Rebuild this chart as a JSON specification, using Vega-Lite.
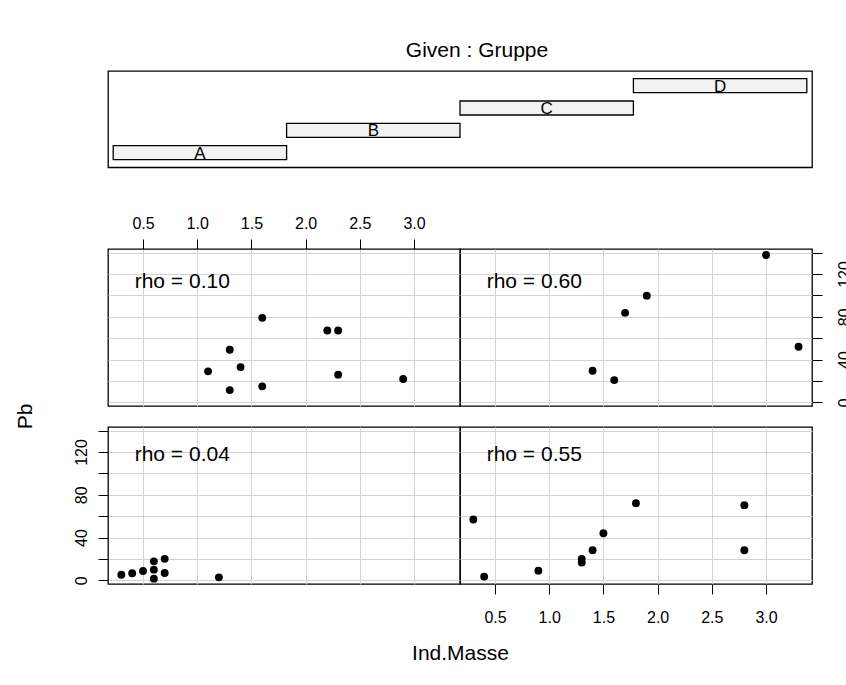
{
  "$schema": "https://vega.github.io/schema/vega-lite/v6.json",
  "padding": {"left": 13, "top": 39, "right": -4, "bottom": 0},
  "background": "white",
  "config": {
    "font": "Liberation Sans",
    "view": {"stroke": "black", "strokeWidth": 1.3},
    "axis": {"domain": false, "gridColor": "#D3D3D3", "gridWidth": 1, "gridOpacity": 1, "tickColor": "black", "tickWidth": 1, "tickSize": 10, "labelFont": "Liberation Sans", "labelFontSize": 16, "labelColor": "black", "titleFont": "Liberation Sans", "titleFontSize": 21, "titleFontWeight": "normal", "titleColor": "black", "labelFlush": false, "labelOverlap": false},
    "title": {"font": "Liberation Sans", "fontSize": 21, "fontWeight": "normal", "color": "black"}
  },
  "datasets": {
    "pts": [
      {"g": "A", "x": 0.3, "y": 5.3}, {"g": "A", "x": 0.4, "y": 6.6}, {"g": "A", "x": 0.5, "y": 8.8}, {"g": "A", "x": 0.6, "y": 17.8}, {"g": "A", "x": 0.6, "y": 10.0}, {"g": "A", "x": 0.6, "y": 1.6}, {"g": "A", "x": 0.7, "y": 20.1}, {"g": "A", "x": 0.7, "y": 6.9}, {"g": "A", "x": 1.2, "y": 2.8},
      {"g": "B", "x": 0.3, "y": 56.9}, {"g": "B", "x": 0.4, "y": 3.5}, {"g": "B", "x": 0.9, "y": 9.1}, {"g": "B", "x": 1.3, "y": 20.1}, {"g": "B", "x": 1.3, "y": 16.6}, {"g": "B", "x": 1.4, "y": 28.1}, {"g": "B", "x": 1.5, "y": 44.1}, {"g": "B", "x": 1.8, "y": 72.2}, {"g": "B", "x": 2.8, "y": 70.3}, {"g": "B", "x": 2.8, "y": 28.1},
      {"g": "C", "x": 1.6, "y": 79.0}, {"g": "C", "x": 2.2, "y": 67.2}, {"g": "C", "x": 2.3, "y": 67.2}, {"g": "C", "x": 1.3, "y": 49.2}, {"g": "C", "x": 1.1, "y": 29.0}, {"g": "C", "x": 1.4, "y": 33.0}, {"g": "C", "x": 1.3, "y": 11.5}, {"g": "C", "x": 1.6, "y": 15.0}, {"g": "C", "x": 2.3, "y": 25.9}, {"g": "C", "x": 2.9, "y": 21.8},
      {"g": "D", "x": 3.0, "y": 137.8}, {"g": "D", "x": 1.9, "y": 99.8}, {"g": "D", "x": 1.7, "y": 83.7}, {"g": "D", "x": 3.3, "y": 52.0}, {"g": "D", "x": 1.4, "y": 29.6}, {"g": "D", "x": 1.6, "y": 20.8}
    ],
    "lab": [
      {"g": "A", "x": 0.423, "y": 111.5, "t": "rho = 0.04"},
      {"g": "B", "x": 0.423, "y": 111.5, "t": "rho = 0.55"},
      {"g": "C", "x": 0.423, "y": 107.3, "t": "rho = 0.10"},
      {"g": "D", "x": 0.423, "y": 107.3, "t": "rho = 0.60"}
    ],
    "given": [
      {"g": "A", "lo": 0.5, "hi": 1.5, "mid": 1},
      {"g": "B", "lo": 1.5, "hi": 2.5, "mid": 2},
      {"g": "C", "lo": 2.5, "hi": 3.5, "mid": 3},
      {"g": "D", "lo": 3.5, "hi": 4.5, "mid": 4}
    ]
  },
  "bounds": "flush",
  "spacing": 81,
  "vconcat": [
    {
      "width": 704,
      "height": 96.3,
      "title": {"text": "Given : Gruppe", "offset": -7, "baseline": "alphabetic", "dx": 17, "anchor": "middle"},
      "data": {"name": "given"},
      "encoding": {
        "y": {"field": "g", "type": "ordinal", "sort": "descending", "scale": {"paddingInner": 0.373, "paddingOuter": 0.343}, "axis": null}
      },
      "layer": [
        {
          "mark": {"type": "bar", "fill": "#F2F2F2", "stroke": "black", "strokeWidth": 1.3},
          "encoding": {
            "x": {"field": "lo", "type": "quantitative", "scale": {"domain": [0.47, 4.53], "nice": false, "zero": false}, "axis": null},
            "x2": {"field": "hi"}
          }
        },
        {
          "mark": {"type": "text", "fontSize": 17, "font": "Liberation Sans", "baseline": "middle", "dy": 1, "color": "black"},
          "encoding": {
            "x": {"field": "mid", "type": "quantitative", "axis": null},
            "text": {"field": "g"}
          }
        }
      ]
    },
    {
      "bounds": "flush",
      "columns": 2,
      "spacing": {"row": 21, "column": 0},
      "concat": [
        {
          "width": 352, "height": 157,
          "encoding": {
            "x": {"field": "x", "type": "quantitative", "scale": {"domain": [0.177, 3.424], "nice": false, "zero": false},
                  "axis": {"orient": "top", "values": [0.5, 1, 1.5, 2, 2.5, 3], "grid": true, "format": ".1f", "title": null, "labelBaseline": "alphabetic", "labelPadding": 11}},
            "y": {"field": "y", "type": "quantitative", "scale": {"domain": [-3.4, 143.4], "nice": false, "zero": false},
                  "axis": {"values": [0, 20, 40, 60, 80, 100, 120, 140], "grid": true, "ticks": false, "labels": false, "title": null}}
          },
          "layer": [
            {"data": {"name": "pts"}, "transform": [{"filter": "datum.g === 'C'"}], "mark": {"type": "circle", "color": "black", "opacity": 1, "size": 62}},
            {"data": {"name": "lab"}, "transform": [{"filter": "datum.g === 'C'"}], "mark": {"type": "text", "align": "left", "baseline": "alphabetic", "fontSize": 21, "font": "Liberation Sans", "color": "black"}, "encoding": {"text": {"field": "t"}}}
          ]
        },
        {
          "width": 352, "height": 157,
          "encoding": {
            "x": {"field": "x", "type": "quantitative", "scale": {"domain": [0.177, 3.424], "nice": false, "zero": false},
                  "axis": {"values": [0.5, 1, 1.5, 2, 2.5, 3], "grid": true, "ticks": false, "labels": false, "title": null}},
            "y": {"field": "y", "type": "quantitative", "scale": {"domain": [-3.4, 143.4], "nice": false, "zero": false},
                  "axis": {"orient": "right", "values": [0, 20, 40, 60, 80, 100, 120, 140], "grid": true, "title": null, "labelAngle": 270, "labelAlign": "center", "labelBaseline": "top", "labelPadding": 14, "labelExpr": "datum.value % 40 === 0 ? datum.label : ''"}}
          },
          "layer": [
            {"data": {"name": "pts"}, "transform": [{"filter": "datum.g === 'D'"}], "mark": {"type": "circle", "color": "black", "opacity": 1, "size": 62}},
            {"data": {"name": "lab"}, "transform": [{"filter": "datum.g === 'D'"}], "mark": {"type": "text", "align": "left", "baseline": "alphabetic", "fontSize": 21, "font": "Liberation Sans", "color": "black"}, "encoding": {"text": {"field": "t"}}}
          ]
        },
        {
          "width": 352, "height": 157,
          "encoding": {
            "x": {"field": "x", "type": "quantitative", "scale": {"domain": [0.177, 3.424], "nice": false, "zero": false},
                  "axis": {"values": [0.5, 1, 1.5, 2, 2.5, 3], "grid": true, "ticks": false, "labels": false, "title": null}},
            "y": {"field": "y", "type": "quantitative", "scale": {"domain": [-3.4, 143.4], "nice": false, "zero": false},
                  "axis": {"orient": "left", "values": [0, 20, 40, 60, 80, 100, 120, 140], "grid": true, "labelAngle": 270, "labelAlign": "center", "labelBaseline": "alphabetic", "labelPadding": 12, "labelExpr": "datum.value % 40 === 0 ? datum.label : ''",
                           "title": "Pb", "titleAngle": 270, "titleAlign": "center", "titleBaseline": "middle", "titleX": -83, "titleY": -11}}
          },
          "layer": [
            {"data": {"name": "pts"}, "transform": [{"filter": "datum.g === 'A'"}], "mark": {"type": "circle", "color": "black", "opacity": 1, "size": 62}},
            {"data": {"name": "lab"}, "transform": [{"filter": "datum.g === 'A'"}], "mark": {"type": "text", "align": "left", "baseline": "alphabetic", "fontSize": 21, "font": "Liberation Sans", "color": "black"}, "encoding": {"text": {"field": "t"}}}
          ]
        },
        {
          "width": 352, "height": 157,
          "encoding": {
            "x": {"field": "x", "type": "quantitative", "scale": {"domain": [0.177, 3.424], "nice": false, "zero": false},
                  "axis": {"orient": "bottom", "values": [0.5, 1, 1.5, 2, 2.5, 3], "grid": true, "format": ".1f", "labelBaseline": "top", "labelPadding": 15,
                           "title": "Ind.Masse", "titleX": 0, "titleY": 69, "titleBaseline": "middle", "titleAlign": "center", "titleAngle": 0}},
            "y": {"field": "y", "type": "quantitative", "scale": {"domain": [-3.4, 143.4], "nice": false, "zero": false},
                  "axis": {"values": [0, 20, 40, 60, 80, 100, 120, 140], "grid": true, "ticks": false, "labels": false, "title": null}}
          },
          "layer": [
            {"data": {"name": "pts"}, "transform": [{"filter": "datum.g === 'B'"}], "mark": {"type": "circle", "color": "black", "opacity": 1, "size": 62}},
            {"data": {"name": "lab"}, "transform": [{"filter": "datum.g === 'B'"}], "mark": {"type": "text", "align": "left", "baseline": "alphabetic", "fontSize": 21, "font": "Liberation Sans", "color": "black"}, "encoding": {"text": {"field": "t"}}}
          ]
        }
      ]
    }
  ]
}
